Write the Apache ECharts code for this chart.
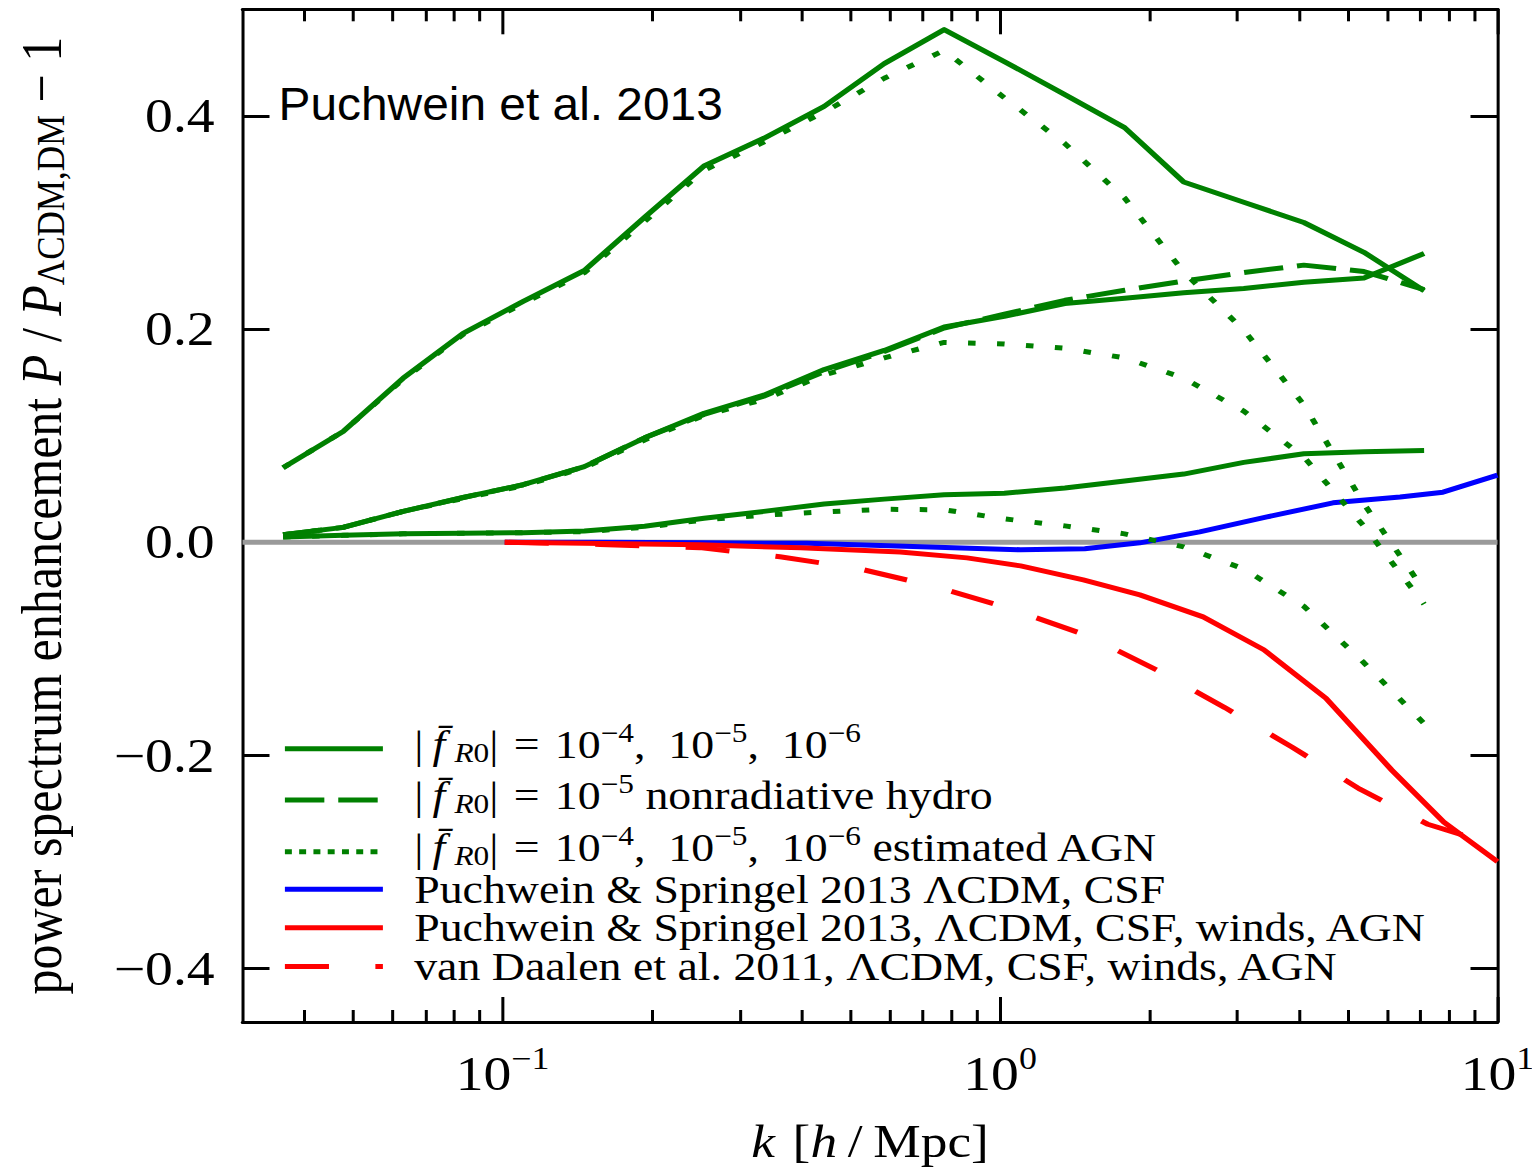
<!DOCTYPE html>
<html>
<head>
<meta charset="utf-8">
<title>Power spectrum enhancement</title>
<script src="https://cdn.jsdelivr.net/npm/echarts@6/dist/echarts.min.js"></script>
<style>
  html, body { margin: 0; padding: 0; background: #fff; overflow: hidden; }
  #chart { position: absolute; left: 0; top: 0; height: 1170px; transform-origin: 0 0; }
</style>
</head>
<body>
<div id="chart"></div>
<script>
// ---------------------------------------------------------------------------
// Data: wavenumber k [h/Mpc] and relative power P / P_LCDM,DM - 1
// ---------------------------------------------------------------------------

// k bins of the f(R) simulations
const kSim = [0.0362, 0.0478, 0.0631, 0.0833, 0.110, 0.146, 0.193, 0.254, 0.335, 0.443,
              0.585, 0.772, 1.02, 1.35, 1.78, 2.34, 3.09, 4.08, 5.39, 7.12];

// |fR0| = 1e-4, 1e-5, 1e-6 (full simulations)
const fR4 = [0.070, 0.104, 0.154, 0.196, 0.226, 0.255, 0.305, 0.353, 0.379, 0.409,
             0.449, 0.481, 0.451, 0.420, 0.389, 0.338, 0.319, 0.300, 0.272, 0.236];
const fR5 = [0.007, 0.014, 0.029, 0.042, 0.054, 0.071, 0.098, 0.121, 0.138, 0.162,
             0.180, 0.202, 0.212, 0.224, 0.229, 0.234, 0.238, 0.244, 0.248, 0.271];
const fR6 = [0.005, 0.0065, 0.008, 0.0085, 0.009, 0.0105, 0.015, 0.0225, 0.029, 0.036,
             0.0405, 0.0445, 0.046, 0.051, 0.0576, 0.064, 0.075, 0.083, 0.085, 0.086];

// |fR0| = 1e-5 nonradiative hydro
const fR5Nonrad = [0.007, 0.014, 0.029, 0.042, 0.054, 0.071, 0.098, 0.120, 0.137, 0.160,
                   0.179, 0.201, 0.214, 0.227, 0.2365, 0.245, 0.253, 0.260, 0.254, 0.237];

// |fR0| = 1e-4, 1e-5, 1e-6 with estimated AGN feedback
const fR4Agn = [0.070, 0.104, 0.153, 0.195, 0.224, 0.253, 0.301, 0.349, 0.3755, 0.4035,
                0.4353, 0.4615, 0.417, 0.374, 0.323, 0.2535, 0.199, 0.129, 0.036, -0.045];
const fR5Agn = [0.007, 0.014, 0.029, 0.041, 0.053, 0.070, 0.096, 0.119, 0.134, 0.157,
                0.173, 0.1875, 0.186, 0.182, 0.173, 0.154, 0.123, 0.080, 0.015, -0.058];
const fR6Agn = [0.005, 0.0065, 0.008, 0.0085, 0.009, 0.010, 0.014, 0.021, 0.0255, 0.0285,
                0.031, 0.0305, 0.022, 0.0154, 0.0079, -0.0043, -0.025, -0.060, -0.113, -0.170];

// Puchwein & Springel 2013, LCDM, CSF
const kPS13Csf = [0.101, 0.157, 0.249, 0.409, 0.668, 1.10, 1.48, 1.91, 2.52, 3.44, 4.67, 6.37, 7.77, 10.0];
const ps13Csf  = [0, 0, -0.0005, -0.001, -0.004, -0.007, -0.006, -0.0005, 0.0098, 0.0238, 0.037, 0.0425, 0.047, 0.063];

// Puchwein & Springel 2013, LCDM, CSF, winds, AGN
const kPS13Agn = [0.101, 0.249, 0.397, 0.630, 0.858, 1.10, 1.47, 1.91, 2.56, 3.39, 4.52, 6.13, 7.80, 10.0];
const ps13Agn  = [0, -0.0024, -0.0052, -0.009, -0.0146, -0.0221, -0.0352, -0.0493, -0.0699, -0.1008,
                  -0.1463, -0.2137, -0.2625, -0.2996];

// van Daalen et al. 2011, LCDM, CSF, winds, AGN
const kVD11Agn = [0.101, 0.157, 0.249, 0.361, 0.523, 0.747, 1.06, 1.50, 2.09, 2.83, 3.86, 5.29, 7.24, 10.0];
const vd11Agn  = [0, -0.002, -0.005, -0.0135, -0.025, -0.042, -0.063, -0.0877, -0.121, -0.155,
                  -0.192, -0.2316, -0.2645, -0.2846];

// reference level (no enhancement)
const kZero = [0.03, 10];
const zeroLevel = [0, 0];

// axis ticks
const kMajor = [0.1, 1, 10];
const kMinor = [0.04, 0.05, 0.06, 0.07, 0.08, 0.09, 0.2, 0.3, 0.4, 0.5, 0.6, 0.7, 0.8, 0.9,
                2, 3, 4, 5, 6, 7, 8, 9];
const yTicks = [-0.4, -0.2, 0, 0.2, 0.4];
const kExponents = ['\u22121', '0', '1'];

// ---------------------------------------------------------------------------
// Layout / style
// ---------------------------------------------------------------------------
const SX = 1.16;                        // horizontal stretch of the figure
const PAGE_W = 1532;
const CHART_W = Math.round(PAGE_W / SX);
const px = v => v / SX;                 // page x-pixels -> chart x-pixels

const el = document.getElementById('chart');
el.style.width = CHART_W + 'px';
el.style.transform = 'scaleX(' + SX + ')';

const SERIF = '"Liberation Serif", "Times New Roman", serif';
const SANS = '"Liberation Sans", Arial, sans-serif';
const GREEN = '#008000', BLUE = '#0000ff', RED = '#ff0000', GRAY = '#9a9a9a';
const LW = 5;
const DASH_G = [34, 12];
const DOT_G = [6.5, 18.5];
const DASH_R = [38, 40];

const pairs = (ks, vs) => ks.map((k, i) => [k, vs[i]]);

const N_FR = 'f(R) full physics';
const N_NONRAD = 'f(R) 1e-5 nonradiative';
const N_AGN = 'f(R) estimated AGN';
const N_PS_CSF = 'PS13 CSF';
const N_PS_AGN = 'PS13 AGN';
const N_VD = 'vD11 AGN';

function line(name, ks, vs, color, type, z) {
  return {
    type: 'line', name, data: pairs(ks, vs), color,
    symbol: 'none', showSymbol: false, silent: true, animation: false,
    lineStyle: { color, width: LW, type: type || 'solid', cap: 'butt', join: 'round' },
    z: z || 2
  };
}

const series = [
  line('zero', kZero, zeroLevel, GRAY, 'solid', 1),
  line(N_PS_CSF, kPS13Csf, ps13Csf, BLUE),
  line(N_PS_AGN, kPS13Agn, ps13Agn, RED),
  line(N_VD, kVD11Agn, vd11Agn, RED, DASH_R),
  line(N_FR, kSim, fR4, GREEN),
  line(N_FR, kSim, fR5, GREEN),
  line(N_FR, kSim, fR6, GREEN),
  line(N_NONRAD, kSim, fR5Nonrad, GREEN, DASH_G),
  line(N_AGN, kSim, fR4Agn, GREEN, DOT_G, 3),
  line(N_AGN, kSim, fR5Agn, GREEN, DOT_G, 3),
  line(N_AGN, kSim, fR6Agn, GREEN, DOT_G, 3)
];

// legend text (rich): superscripts raised and subscripts lowered through padding
const LFS = 39.5;
const LEG_RICH = {
  gap:  { width: 22, height: 38 },
  t:    { fontFamily: SERIF, fontSize: LFS, height: 38, verticalAlign: 'middle', color: '#000' },
  b:    { fontFamily: SERIF, fontSize: LFS, height: 30, padding: [0, 0, 8, 0], verticalAlign: 'middle', color: '#000' },
  fi:   { fontFamily: SERIF, fontSize: LFS, fontStyle: 'italic', height: 30, padding: [0, 0, 8, 0], verticalAlign: 'middle', color: '#000' },
  sup:  { fontFamily: SERIF, fontSize: 27, height: 6, padding: [0, 0, 32, 0], verticalAlign: 'middle', color: '#000' },
  sub:  { fontFamily: SERIF, fontSize: 27, height: 27, padding: [8, 0, 0, 0], verticalAlign: 'middle', color: '#000' },
  subi: { fontFamily: SERIF, fontSize: 27, fontStyle: 'italic', height: 27, padding: [8, 0, 0, 0], verticalAlign: 'middle', color: '#000' }
};
const EN = '\u2002', M3 = '\u2004', TH = '\u2009', MINUS = '\u2212';
const FR0 = '{gap| }{b||' + TH + '}{fi|f\u0304' + TH + '}{subi|R}{sub|0}{b||' + M3 + '=' + M3 + '10}';
const TRIPLE = '{sup|' + MINUS + '4}{b|,' + EN + '10}{sup|' + MINUS + '5}{b|,' + EN + '10}{sup|' + MINUS + '6}';
// y: vertical centre of each legend line; off: distance from the row's top to that centre
const legendRows = [
  { name: N_FR,     y: 747.7, off: 28.5, text: FR0 + TRIPLE },
  { name: N_NONRAD, y: 799.0, off: 28.5, text: FR0 + '{sup|' + MINUS + '5}{b| nonradiative hydro}' },
  { name: N_AGN,    y: 850.7, off: 28.5, text: FR0 + TRIPLE + '{b| estimated AGN}', dash: [6, 6.3] },
  { name: N_PS_CSF, y: 888.3, off: 19,   text: '{gap| }{t|Puchwein & Springel 2013 \u039BCDM, CSF}' },
  { name: N_PS_AGN, y: 926.7, off: 19,   text: '{gap| }{t|Puchwein & Springel 2013, \u039BCDM, CSF, winds, AGN}' },
  { name: N_VD,     y: 965.6, off: 19,   text: '{gap| }{t|van Daalen et al. 2011, \u039BCDM, CSF, winds, AGN}' }
];

const legends = legendRows.map(r => ({
  data: [r.name],
  left: px(282), top: r.y - r.off, padding: 0,
  itemWidth: px(98), itemHeight: 1, itemGap: 0,
  selectedMode: false,
  formatter: () => r.text,
  textStyle: { color: '#000', fontFamily: SERIF, fontSize: LFS, rich: LEG_RICH },
  itemStyle: { opacity: 0 },
  lineStyle: r.dash ? { width: LW, type: r.dash, opacity: 1 } : { width: LW, opacity: 1 }
}));

// axes
const xCommon = {
  type: 'log', logBase: 10, min: 0.03, max: 10, gridIndex: 0,
  splitLine: { show: false }, minorTick: { show: false }, minorSplitLine: { show: false },
  axisPointer: { show: false }
};
const X_RICH = {
  b:   { fontFamily: SERIF, fontSize: 48, verticalAlign: 'middle', color: '#000' },
  sup: { fontFamily: SERIF, fontSize: 31, verticalAlign: 'middle', padding: [0, 0, 31, 0], color: '#000' }
};
function xLabel(v) {
  const i = kMajor.findIndex(m => Math.abs(Math.log10(v) - Math.log10(m)) < 1e-6);
  return i < 0 ? '' : '{b|10}{sup|' + kExponents[i] + '}';
}
function xAxisDef(position, ticks, len, withLine, withLabels) {
  return Object.assign({}, xCommon, {
    position,
    axisLine: { show: withLine, onZero: false, lineStyle: { color: '#000', width: 3 } },
    axisTick: { show: true, inside: true, length: len, customValues: ticks,
                lineStyle: { color: '#000', width: 2.6 } },
    axisLabel: withLabels ? {
      show: true, margin: 21, customValues: kMajor, rich: X_RICH, formatter: xLabel
    } : { show: false }
  }, withLabels ? {
    name: '{i|k}{b|' + M3 + '[}{i|h}{b|' + TH + '/' + TH + 'Mpc]}',
    nameLocation: 'middle', nameGap: 96.5,
    nameTextStyle: {
      rich: {
        b: { fontFamily: SERIF, fontSize: 46, verticalAlign: 'middle', color: '#000' },
        i: { fontFamily: SERIF, fontSize: 46, fontStyle: 'italic', verticalAlign: 'middle', color: '#000' }
      }
    }
  } : {});
}

function yAxisDef(position, withLabels) {
  return Object.assign({
    type: 'value', min: -0.45, max: 0.5, gridIndex: 0, position,
    splitLine: { show: false },
    axisPointer: { show: false },
    axisLine: { show: true, onZero: false, lineStyle: { color: '#000', width: 2.6 } },
    axisTick: { show: true, inside: true, length: px(27), customValues: yTicks,
                lineStyle: { color: '#000', width: 3 } },
    axisLabel: withLabels ? {
      show: true, margin: 24, customValues: yTicks,
      fontFamily: SERIF, fontSize: 48, color: '#000',
      formatter: v => (v < 0 ? MINUS : '') + Math.abs(v).toFixed(1)
    } : { show: false }
  }, withLabels ? {
    name: '{b|power spectrum enhancement }{i|P}{b| / }{i|P}{sub|\u039BCDM,DM}{b| ' + MINUS + ' 1}',
    nameLocation: 'middle', nameRotate: 90, nameGap: 148.5,
    nameTextStyle: {
      rich: {
        b:   { fontFamily: SERIF, fontSize: 50, verticalAlign: 'middle', color: '#000' },
        i:   { fontFamily: SERIF, fontSize: 50, fontStyle: 'italic', verticalAlign: 'middle', color: '#000' },
        sub: { fontFamily: SERIF, fontSize: 35, height: 35, padding: [15, 0, 0, 0], verticalAlign: 'middle', color: '#000' }
      }
    }
  } : {});
}

const option = {
  animation: false,
  backgroundColor: '#fff',
  grid: {
    left: px(242.5), top: 9.3, width: px(1255), height: 1012.7,
    containLabel: false, outerBoundsMode: 'none'
  },
  xAxis: [
    xAxisDef('bottom', kMajor, 25, true, true),
    xAxisDef('bottom', kMinor, 12, false, false),
    xAxisDef('top', kMajor, 25, true, false),
    xAxisDef('top', kMinor, 12, false, false)
  ],
  yAxis: [
    yAxisDef('left', true),
    yAxisDef('right', false)
  ],
  legend: legends,
  graphic: [{
    type: 'text', x: px(278.5), y: 104, scaleX: 1.04 / SX, silent: true, z: 10,
    style: { text: 'Puchwein et al. 2013', fontFamily: SANS, fontSize: 46, fill: '#000',
             align: 'left', verticalAlign: 'middle' }
  }],
  series: series.map(s => Object.assign(s, { xAxisIndex: 0, yAxisIndex: 0 }))
};

const chart = echarts.init(el, null, { renderer: 'svg', width: CHART_W, height: 1170 });
chart.setOption(option);
</script>
</body>
</html>
